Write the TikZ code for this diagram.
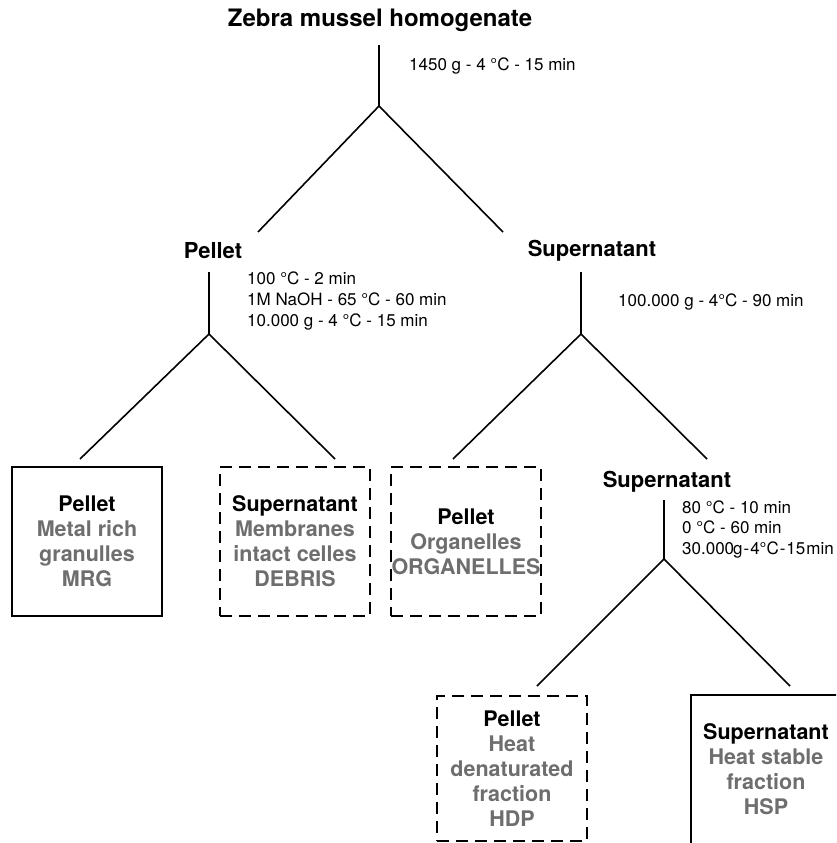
\documentclass[tikz,border=0pt]{standalone}
\usepackage{fontspec}
\setmainfont{TeX Gyre Heros}
\definecolor{txtgray}{HTML}{6E6E6E}
\begin{document}
\begin{tikzpicture}[x=1pt,y=-1pt,
  conn/.style={line width=1.6pt, black},
  head/.style={font=\fontsize{22}{26}\selectfont\bfseries, inner sep=0pt},
  cond/.style={font=\fontsize{17}{20.5}\selectfont, anchor=west, inner sep=0pt, align=left},
  fbox/.style={draw, line width=1.3pt, minimum width=150pt, minimum height=149pt, align=center, font=\fontsize{21.5}{25}\selectfont\bfseries, inner sep=0pt},
  solidbox/.style={fbox},
  dashbox/.style={fbox, dash pattern=on 12pt off 7pt},
]
\clip (0,0) rectangle (836,843);
\fill[white] (0,0) rectangle (836,843);

% root
\node[font=\fontsize{24}{28}\selectfont\bfseries, inner sep=0pt] (root) at (380,20) {Zebra mussel homogenate};
\coordinate (r0) at (379,45);
\coordinate (r1) at (379,106);
\node[cond] (c1) at (409,66) {1450 g - 4 °C - 15 min};

% level 2
\node[head] (pel) at (213,251) {Pellet};
\node[head] (sup) at (592,251) {Supernatant};
\draw[conn] (r0) -- (r1);
\draw[conn] (r1) -- (258,232) coordinate (pelTop);
\draw[conn] (r1) -- (503,232) coordinate (supTop);

% pellet branch
\coordinate (p0) at (209,272);
\coordinate (p1) at (209,334);
\node[cond] (c2) at (247,301) {100 °C - 2 min\\1M NaOH - 65 °C - 60 min\\10.000 g - 4 °C - 15 min};
\draw[conn] (p0) -- (p1);

% supernatant branch
\coordinate (s0) at (581,272);
\coordinate (s1) at (581,334);
\node[cond] (c3) at (618,302) {100.000 g - 4°C - 90 min};
\draw[conn] (s0) -- (s1);

% boxes level 3
\node[solidbox] (mrg) at (87,541.5) {Pellet\\\color{txtgray}Metal rich\\\color{txtgray}granulles\\\color{txtgray}MRG};
\node[dashbox] (deb) at (295,541.5) {Supernatant\\\color{txtgray}Membranes\\\color{txtgray}intact celles\\\color{txtgray}DEBRIS};
\node[dashbox] (org) at (466,541.5) {Pellet\\\color{txtgray}Organelles\\\color{txtgray}ORGANELLES};
\coordinate (mrgTop) at (80,459);
\coordinate (debTop) at (335,459);
\coordinate (orgTop) at (453,459);
\coordinate (sup2Top) at (707,459);
\draw[conn] (p1) -- (mrgTop);
\draw[conn] (p1) -- (debTop);
\draw[conn] (s1) -- (orgTop);
\draw[conn] (s1) -- (sup2Top);

% second supernatant
\node[head] (sup2) at (667,482) {Supernatant};
\coordinate (t0) at (664,500);
\coordinate (t1) at (664,559);
\node[cond] (c4) at (682,529) {80 °C - 10 min\\0 °C - 60 min\\30.000\kern-1pt g\kern1pt-\kern1pt4°C\kern1pt-\kern1pt15\kern1pt min};
\draw[conn] (t0) -- (t1);
\coordinate (hdpTop) at (537,686);
\coordinate (hspTop) at (790,686);
\draw[conn] (t1) -- (hdpTop);
\draw[conn] (t1) -- (hspTop);

% boxes level 4
\node[dashbox, minimum height=145pt] (hdp) at (512,768.5) {Pellet\\\color{txtgray}Heat\\\color{txtgray}denaturated\\\color{txtgray}fraction\\\color{txtgray}HDP};
\node[solidbox] (hsp) at (766,769.5) {Supernatant\\\color{txtgray}Heat stable\\\color{txtgray}fraction\\\color{txtgray}HSP};
\end{tikzpicture}
\end{document}
